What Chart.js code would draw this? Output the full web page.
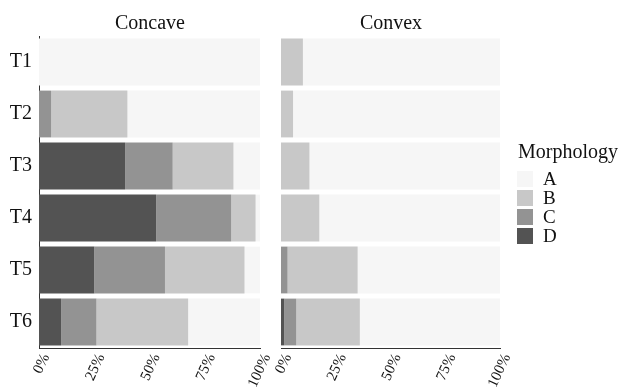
<!DOCTYPE html>
<html><head><meta charset="utf-8">
<script src="https://cdn.jsdelivr.net/npm/chart.js@4.4.1/dist/chart.umd.min.js"></script>
<style>
body{margin:0;background:#fff;width:619px;height:389px;overflow:hidden;position:relative;font-family:"Liberation Serif","DejaVu Serif",serif;color:#111}
canvas{position:absolute;top:0}
#c1{left:0}
#c2{left:255px}
.ttl{position:absolute;top:10px;font-size:20px;line-height:24px;text-align:center}
#legend{position:absolute;left:517px;top:140px}
#legend .lt{font-size:20px;line-height:22px;margin-bottom:7px;margin-left:1px;white-space:nowrap}
#legend .it{display:flex;align-items:center;height:19px}
#legend .sw{width:16px;height:16px;margin-right:10px}
#legend .lb{font-size:19px;line-height:16px}
</style></head>
<body>
<canvas id="c1" width="290" height="389"></canvas>
<canvas id="c2" width="275" height="389"></canvas>
<div class="ttl" style="left:100px;width:100px">Concave</div>
<div class="ttl" style="left:341px;width:100px">Convex</div>
<div id="legend"></div>
<script>
const categories = ['T1','T2','T3','T4','T5','T6'];
const morphLabels = ['A','B','C','D'];
const xTicks = [0,25,50,75,100];
// Concave (percent)
const concaveD = [0, 0, 39, 53, 25, 10];
const concaveC = [0, 5.5, 21.5, 34, 32, 16];
const concaveB = [0, 34.5, 27.5, 11, 36, 41.5];
const concaveA = [100, 60, 12, 2, 7, 32.5];
// Convex (percent)
const convexD = [0, 0, 0, 0, 0, 1.5];
const convexC = [0, 0, 0, 0, 3, 5.5];
const convexB = [10, 5.5, 13, 17.5, 32, 29];
const convexA = [90, 94.5, 87, 82.5, 65, 64];

const colors = {A:'#f6f6f6', B:'#c8c8c8', C:'#939393', D:'#535353'};
const serif = '"Liberation Serif","DejaVu Serif",serif';

function ds(label, data){
  return {label, data, backgroundColor: colors[label], borderWidth: 0,
          barPercentage: 0.9, categoryPercentage: 1.0};
}

function makeChart(id, D, C, B, A, first, padRight){
  return new Chart(document.getElementById(id), {
    type: 'bar',
    data: {labels: categories, datasets: [ds('D',D), ds('C',C), ds('B',B), ds('A',A)]},
    options: {
      indexAxis: 'y', responsive: false, animation: false,
      layout: {padding: {top: 36, right: padRight, left: 0, bottom: 0}},
      plugins: {legend: {display: false}, title: {display: false}, tooltip: {enabled: false}},
      scales: {
        x: {
          stacked: true, min: 0, max: 100,
          afterBuildTicks: s => { s.ticks = xTicks.map(v => ({value: v})); },
          afterFit: s => { s.height = 41; },
          grid: {display: false, drawTicks: false},
          border: {display: true, color: '#333', width: 1},
          ticks: {minRotation: 65, maxRotation: 65, padding: 3, autoSkip: false, labelOffset: 7,
                  color: '#111', font: {family: serif, size: 15},
                  callback: v => v + '%'}
        },
        y: {
          stacked: true,
          afterFit: s => { s.width = first ? 39 : 26; },
          grid: {display: false, drawTicks: false},
          border: {display: first, color: '#333', width: 1},
          ticks: {display: first, padding: 7, color: '#111', font: {family: serif, size: 20}}
        }
      }
    }
  });
}

makeChart('c1', concaveD, concaveC, concaveB, concaveA, true, 30);
makeChart('c2', convexD, convexC, convexB, convexA, false, 30);

const lg = document.getElementById('legend');
let html = '<div class="lt">Morphology</div>';
morphLabels.forEach(l => {
  html += '<div class="it"><div class="sw" style="background:' + colors[l] + '"></div><div class="lb">' + l + '</div></div>';
});
lg.innerHTML = html;
</script>
</body></html>
